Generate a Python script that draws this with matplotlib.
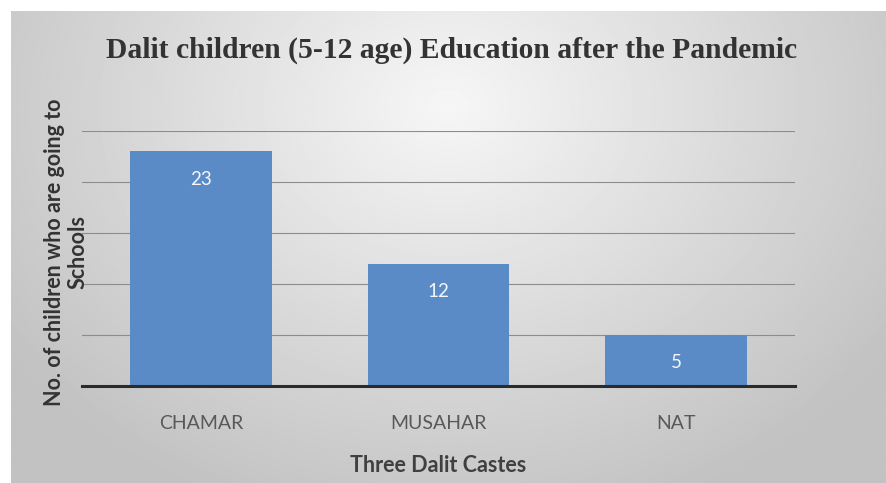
import numpy as np
import matplotlib
matplotlib.use("Agg")
import matplotlib.pyplot as plt

# data
castes = ["CHAMAR", "MUSAHAR", "NAT"]
children = [23, 12, 5]

TITLE = "Dalit children (5-12 age) Education after the Pandemic"
YLABEL = "No. of children who are going to\nSchools"
XLABEL = "Three Dalit Castes"

BAR_COLOR = "#5b8bc6"
W, H = 886, 483

fig = plt.figure(figsize=(W / 100, H / 100), dpi=100)
fig.patch.set_facecolor("white")

# background gradient (chart area, white border top/left)
bg = fig.add_axes([11 / W, 0, 1 - 11 / W, 1 - 11 / H], zorder=0)
yy, xx = np.mgrid[0:1:300j, 0:1:500j]
d = np.sqrt(((xx - 0.5) / 0.6) ** 2 + ((yy - 0.2) / 0.9) ** 2)
shade = np.clip(0.965 - 0.2 * d, 0.76, 0.97)
bg.imshow(shade, cmap="gray", vmin=0, vmax=1, aspect="auto",
          extent=[0, 1, 1, 0])
bg.axis("off")

ax = fig.add_axes([82 / W, 1 - 386 / H, (795 - 82) / W, (386 - 131) / H], zorder=1)
ax.patch.set_alpha(0)

x = np.arange(len(castes))
bars = ax.bar(x, children, width=0.595, color=BAR_COLOR, zorder=3)

ax.set_ylim(0, 25)
ax.set_xlim(-0.5, len(castes) - 0.5)
ax.set_yticks([5, 10, 15, 20, 25])
ax.yaxis.grid(True, color="#8c8c8c", linewidth=0.8, zorder=0)
ax.tick_params(axis="y", length=0, labelleft=False)
ax.tick_params(axis="x", length=0, pad=21)
ax.set_xticks(x)
ax.set_xticklabels(castes, fontsize=14, color="#595959", family="Lato")

for s in ["top", "right", "left"]:
    ax.spines[s].set_visible(False)
ax.spines["bottom"].set_color("#2b2b2b")
ax.spines["bottom"].set_linewidth(2.2)
ax.spines["bottom"].set_zorder(4)

for b, v in zip(bars, children):
    ax.annotate(str(v), (b.get_x() + b.get_width() / 2, v),
                xytext=(0, -20), textcoords="offset points",
                ha="center", va="center", color="#f4f7fb",
                fontsize=13.5, family="Lato", zorder=5)

fig.text(452 / W, 1 - 50 / H, TITLE, ha="center", va="center",
         fontsize=21.3, fontweight="bold", family="Liberation Serif", color="#333333")
fig.text(66 / W, 1 - 252 / H, YLABEL, ha="center", va="center", rotation=90,
         fontsize=15.5, fontweight="bold", family="Lato", color="#333333",
         linespacing=1.15)
fig.text(438 / W, 1 - 466 / H, XLABEL, ha="center", va="center",
         fontsize=15.5, fontweight="bold", family="Lato", color="#404040")

fig.savefig("out.png", dpi=100)
